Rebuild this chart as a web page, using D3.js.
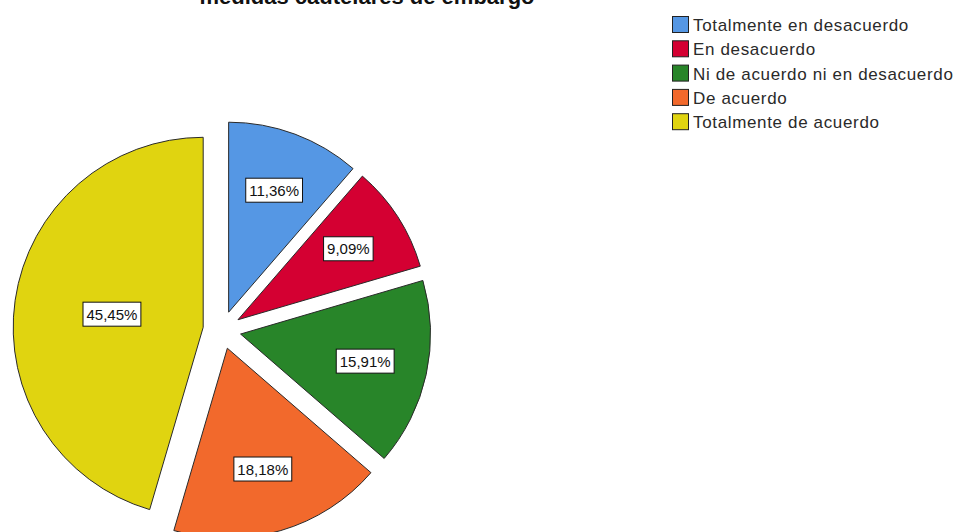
<!DOCTYPE html>
<html>
<head>
<meta charset="utf-8">
<script src="https://cdn.jsdelivr.net/npm/d3@7"></script>
<style>
  html, body { margin: 0; padding: 0; background: #fff; }
  svg { display: block; }
</style>
</head>
<body>
<svg id="chart" width="958" height="532"></svg>
<script>
const title = "medidas cautelares de embargo";
const categories = ["Totalmente en desacuerdo", "En desacuerdo", "Ni de acuerdo ni en desacuerdo", "De acuerdo", "Totalmente de acuerdo"];
const values = [11.36, 9.09, 15.91, 18.18, 45.45];
const labels = ["11,36%", "9,09%", "15,91%", "18,18%", "45,45%"];
const colors = ["#5597e4", "#d40032", "#288529", "#f2692c", "#e0d410"];

const svg = d3.select("#chart");
const cx = 222, cy = 330, R = 190, explode = 19;

svg.append("text")
  .attr("x", 367).attr("y", 4)
  .attr("text-anchor", "middle")
  .attr("font-family", "Liberation Sans, Arial, sans-serif")
  .attr("font-weight", "bold")
  .attr("font-size", 22)
  .attr("fill", "#111")
  .text(title);

const pie = d3.pie().sort(null).value(d => d);
const arcs = pie(values);
const arc = d3.arc().innerRadius(0).outerRadius(R);

const g = svg.append("g").attr("transform", `translate(${cx},${cy})`);

const slices = g.selectAll("g.slice").data(arcs).enter().append("g")
  .attr("class", "slice")
  .attr("transform", d => {
    const a = (d.startAngle + d.endAngle) / 2;
    return `translate(${explode * Math.sin(a)},${-explode * Math.cos(a)})`;
  });

slices.append("path")
  .attr("d", arc)
  .attr("fill", (d, i) => colors[i])
  .attr("stroke", "#2a2a2a")
  .attr("stroke-width", 1);

// labels near the sector centroid
slices.each(function(d, i) {
  const a = (d.startAngle + d.endAngle) / 2;
  const half = (d.endAngle - d.startAngle) / 2;
  const dist = 1.05 * (2 * R * Math.sin(half)) / (3 * half);
  const x = dist * Math.sin(a), y = -dist * Math.cos(a);
  const sel = d3.select(this);
  const t = sel.append("text")
    .attr("x", x).attr("y", y)
    .attr("text-anchor", "middle")
    .attr("dominant-baseline", "central")
    .attr("font-family", "Liberation Sans, Arial, sans-serif")
    .attr("font-size", 15)
    .attr("fill", "#111")
    .text(labels[i]);
  const bb = t.node().getBBox();
  sel.insert("rect", "text")
    .attr("x", x - bb.width / 2 - 3.5)
    .attr("y", y - 12)
    .attr("width", bb.width + 7)
    .attr("height", 24)
    .attr("fill", "#fff")
    .attr("stroke", "#111")
    .attr("stroke-width", 1);
});

// legend
const lg = svg.append("g").attr("transform", "translate(672,16)");
const rows = lg.selectAll("g").data(categories).enter().append("g")
  .attr("transform", (d, i) => `translate(0,${i * 24.3})`);
rows.append("rect")
  .attr("x", 0.5).attr("y", 0.5)
  .attr("width", 16).attr("height", 16)
  .attr("fill", (d, i) => colors[i])
  .attr("stroke", "#222").attr("stroke-width", 1);
rows.append("text")
  .attr("x", 21).attr("y", 15)
  .attr("font-family", "Liberation Sans, Arial, sans-serif")
  .attr("font-size", 17)
  .attr("letter-spacing", 0.65)
  .attr("fill", "#2a2a2a")
  .text(d => d);
</script>
</body>
</html>
